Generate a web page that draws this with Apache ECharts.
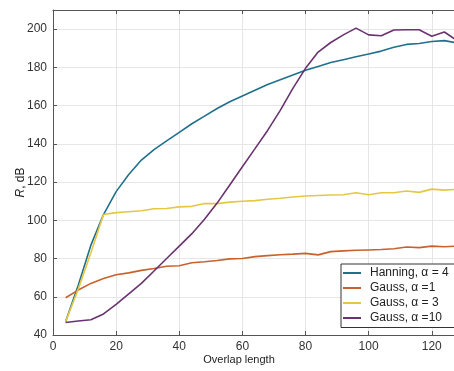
<!DOCTYPE html>
<html><head><meta charset="utf-8">
<script src="https://cdn.jsdelivr.net/npm/echarts@6/dist/echarts.min.js"></script>
<style>html,body{margin:0;padding:0;background:#fff}#c{width:454px;height:371px}</style>
</head><body><div id="c"></div>
<script>
const overlap = [4,8,12,16,20,24,28,32,36,40,44,48,52,56,60,64,68,72,76,80,84,88,92,96,100,104,108,112,116,120,124,128];
const hanning4 = [47,66,87,103,115,124,131.5,137,141.5,146,150.5,154.5,158.5,162,165,168,171,173.5,176,178.5,180.5,182.5,184,185.5,187,188.5,190.5,192,192.5,193.5,194,192.8];
const gauss1 = [59.5,63.5,67,69.5,71.5,72.5,73.8,74.8,76,76.2,77.8,78.3,79,79.8,80,81,81.5,82,82.3,82.7,81.9,83.6,84,84.3,84.5,84.7,85.1,86,85.7,86.5,86.2,86.5];
const gauss3 = [47,64,83,103,104,104.5,105,106,106.2,107,107.3,108.8,108.7,109.5,110,110.3,111,111.5,112.2,112.7,113,113.2,113.4,114.4,113.4,114.4,114.4,115.3,114.6,116.3,115.8,116.2];
const gauss10 = [46.5,47.3,48,51,56,61.5,67,73.5,80,86.5,93,100.5,109,118.5,128,137.5,147,157.5,169,179.5,188,193,197,200.5,197,196.5,199.5,199.7,199.7,196.3,198.5,194];
const seriesNames = ['Hanning, α = 4','Gauss, α =1','Gauss, α = 3','Gauss, α =10'];
const colors = ['#20708c','#c8612c','#e4c842','#6a3370'];

const chart = echarts.init(document.getElementById('c'), null, {renderer:'canvas'});
const pair = arr => overlap.map((x,i)=>[x,arr[i]]);
const dataSets = [hanning4, gauss1, gauss3, gauss10];
const font = 'Liberation Sans, Arial, sans-serif';
chart.setOption({
  animation:false,
  color: colors,
  textStyle:{fontFamily:font},
  grid:{left:53, top:10, right:-3, bottom:36, show:false, containLabel:false, outerBoundsMode:'none'},
  legend:{
    orient:'vertical', left:341, top:264,
    data: seriesNames,
    icon:'rect', itemWidth:18, itemHeight:2, itemGap:0,
    padding:[1.5,14,2,2],
    backgroundColor:'#fff', borderColor:'#333', borderWidth:1,
    textStyle:{fontSize:12, color:'#222', lineHeight:15, padding:[0,0,0,4], fontFamily:font}
  },
  xAxis:[{
    type:'value', min:0, max:128, interval:20,
    name:'Overlap length', nameLocation:'middle', nameGap:19, nameMoveOverlap:false,
    nameTextStyle:{fontSize:11, color:'#222', padding:[0,32,0,0], fontFamily:font},
    axisLine:{show:true, lineStyle:{color:'#555', width:1}},
    axisTick:{show:true, inside:true, length:4, lineStyle:{color:'#555'}},
    axisLabel:{fontSize:12, color:'#333', margin:6, showMaxLabel:false, fontFamily:font},
    splitLine:{show:true, lineStyle:{color:'#e6e6e6', width:1}}
  },{
    type:'value', min:0, max:128, interval:20, position:'top',
    axisLine:{show:true, lineStyle:{color:'#555', width:1}},
    axisTick:{show:true, inside:true, length:4, lineStyle:{color:'#555'}},
    axisLabel:{show:false}, splitLine:{show:false}
  }],
  yAxis:{
    type:'value', min:40, max:210, interval:20,
    name:'{i|R}, dB', nameLocation:'middle', nameGap:26, nameMoveOverlap:false,
    nameTextStyle:{fontSize:12, color:'#222', padding:[0,20,0,0], fontFamily:font,
      rich:{i:{fontStyle:'italic', fontSize:12, color:'#222', fontFamily:font}}},
    axisLine:{show:true, lineStyle:{color:'#555', width:1}},
    axisTick:{show:true, inside:true, length:4, lineStyle:{color:'#555'}},
    axisLabel:{fontSize:12, color:'#333', margin:6, showMaxLabel:false, fontFamily:font},
    splitLine:{show:true, lineStyle:{color:'#e6e6e6', width:1}}
  },
  series: dataSets.map((d,i)=>({
    name: seriesNames[i], type:'line', data: pair(d), showSymbol:false, symbol:'none',
    lineStyle:{width:1.6, color:colors[i]}, itemStyle:{color:colors[i]}, z: 2+i
  }))
});
</script></body></html>
